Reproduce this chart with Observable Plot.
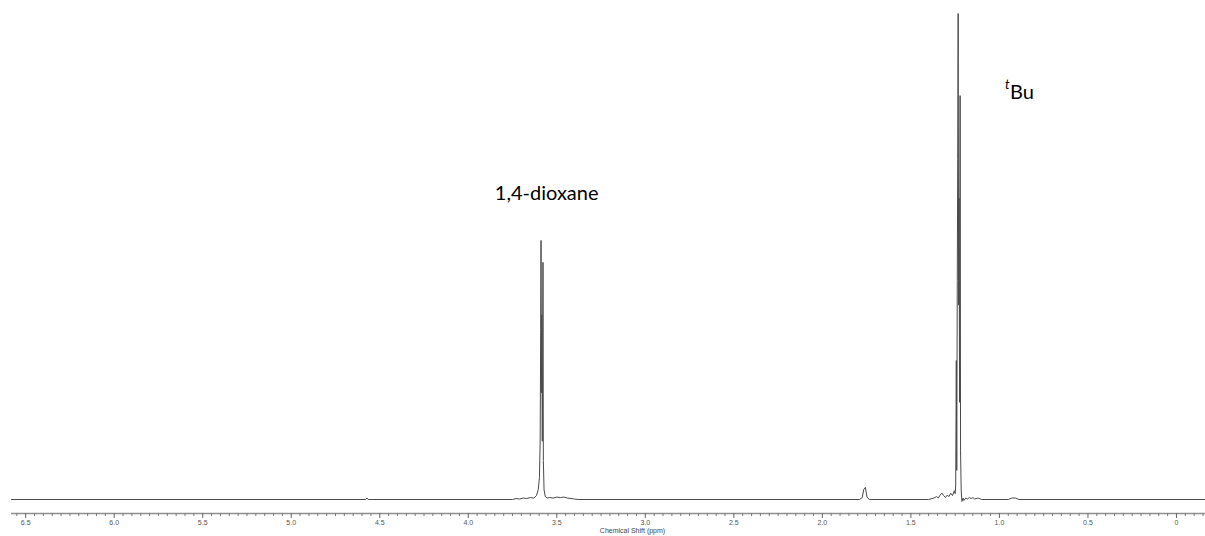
<!DOCTYPE html>
<html>
<head>
<meta charset="utf-8">
<script src="https://cdn.jsdelivr.net/npm/d3@7"></script>
<script src="https://cdn.jsdelivr.net/npm/@observablehq/plot@0.6"></script>
<style>
  html, body { margin: 0; padding: 0; background: #fff; }
  #chart svg { display: block; }
</style>
</head>
<body>
<div id="chart"></div>
<script>
// Spectrum trace (chemical shift in ppm, relative intensity; tallest line = 100)
const ppm = [
  6.58, 4.58, 4.572, 4.565, 3.75, 3.73, 3.71, 3.69, 3.67, 3.65, 3.63, 3.615, 3.605,
  3.598, 3.594, 3.591, 3.589, 3.587, 3.585, 3.582, 3.580, 3.578, 3.576, 3.572, 3.565,
  3.555, 3.54, 3.52, 3.50, 3.48, 3.46, 3.44, 3.42, 3.40, 3.38,
  1.79, 1.775, 1.766, 1.757, 1.748, 1.735,
  1.40, 1.37, 1.355, 1.345, 1.335, 1.325, 1.315, 1.305, 1.295, 1.285, 1.275, 1.265,
  1.255, 1.25, 1.247, 1.2435, 1.241, 1.238, 1.2355, 1.233, 1.2305, 1.228, 1.225, 1.222,
  1.2195, 1.216, 1.212, 1.205, 1.20, 1.19, 1.18, 1.17, 1.16, 1.15, 1.14, 1.12, 1.10,
  0.95, 0.93, 0.91, 0.89, -0.164
];
const intensity = [
  0, 0, 0.3, 0, 0, 0.2, 0.1, 0.3, 0.2, 0.4, 0.3, 0.8, 2.0,
  4.5, 12, 35, 53.3, 22, 38, 12, 26, 48.8, 8, 2, 0.6,
  0.3, 0.4, 0.3, 0.5, 0.4, 0.5, 0.3, 0.2, 0.1, 0,
  0, 0.4, 2.1, 2.5, 0.5, 0,
  0, 0.3, 0.6, 0.3, 0.9, 1.3, 0.8, 0.4, 0.9, 0.6, 1.3, 0.8,
  1.8, 1.2, 3, 28.6, 6, 45, 70, 100, 40, 62, 20, 83.1,
  10, 2, -0.4, 0.3, -0.2, 0.3, 0.1, 0.4, 0.2, 0.4, 0.1, 0.3, 0,
  0, 0.3, 0.3, 0, 0
];

// Axis ticks
const majorTicks = [6.5, 6.0, 5.5, 5.0, 4.5, 4.0, 3.5, 3.0, 2.5, 2.0, 1.5, 1.0, 0.5, 0];
const tickLabels = ["6.5", "6.0", "5.5", "5.0", "4.5", "4.0", "3.5", "3.0", "2.5", "2.0", "1.5", "1.0", "0.5", "0"];
const axisTitle = "Chemical Shift (ppm)";

// Peak annotations
const annotText = ["1,4-dioxane", "Bu"];
const annotPpm = [3.85, 0.94];
const annotHeight = [61.7, 82.5];
const superText = ["t"];
const superPpm = [0.942];
const superHeight = [84.5];

const xDomain = [6.58, -0.164];
const yDomain = [-2.88, 100];

const spectrum = ppm.map((p, i) => ({ppm: p, value: intensity[i]}));
const annots = annotText.map((t, i) => ({text: t, ppm: annotPpm[i], value: annotHeight[i]}));
const supers = superText.map((t, i) => ({text: t, ppm: superPpm[i], value: superHeight[i]}));
const minorTicks = d3.range(-150, 6600, 50).map(d => d / 1000).filter(d => !majorTicks.some(m => Math.abs(m - d) < 1e-9));
const labelOf = d => tickLabels[majorTicks.findIndex(m => Math.abs(m - d) < 1e-9)];

const chart = Plot.plot({
  width: 1205,
  height: 536,
  marginLeft: 11,
  marginRight: 0,
  marginTop: 13,
  marginBottom: 23,
  style: {background: "#fff", fontFamily: "'Liberation Sans', Arial, sans-serif"},
  x: {domain: xDomain},
  y: {domain: yDomain, axis: null},
  marks: [
    Plot.ruleY([yDomain[0]], {stroke: "#8f8f8f", strokeWidth: 1.6}),
    Plot.axisX({ticks: minorTicks, tickSize: 3, tickFormat: () => "", label: null, stroke: "#7a7a7a"}),
    Plot.axisX({ticks: majorTicks, tickSize: 5, tickPadding: 2, tickFormat: labelOf, label: null,
                stroke: "#666", fill: "#555", fontSize: 7}),
    Plot.text([axisTitle], {frameAnchor: "bottom", dx: 24, dy: 19.5, fontSize: 7, fill: "#444"}),
    Plot.line(spectrum, {x: "ppm", y: "value", stroke: "#4a4a4a", strokeWidth: 1, clip: true}),
    Plot.text(annots, {x: "ppm", y: "value", text: "text", fontSize: 20, fontFamily: "Lato, 'Open Sans', sans-serif",
                       fill: "#000", textAnchor: "start", lineAnchor: "bottom"}),
    Plot.text(supers, {x: "ppm", y: "value", text: "text", fontSize: 13, fontStyle: "italic",
                       fontFamily: "Lato, 'Open Sans', sans-serif", fill: "#000", textAnchor: "end", lineAnchor: "bottom"})
  ]
});
document.getElementById("chart").appendChild(chart);
</script>
</body>
</html>
